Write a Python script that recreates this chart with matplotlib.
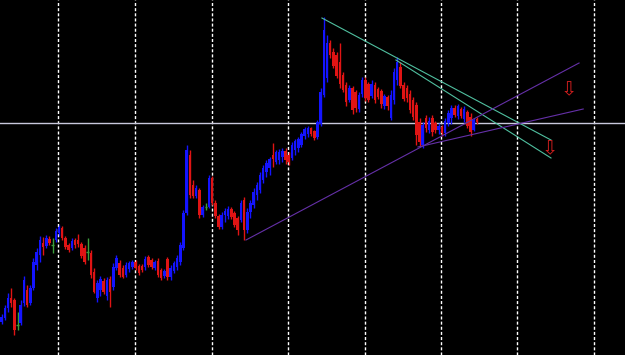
import numpy as np
import matplotlib
matplotlib.use("Agg")
import matplotlib.pyplot as plt

# candle data (price units), one entry per bar
opens = [33, 37, 47, 57, 55, 30, 32, 52, 65, 52, 67, 90, 100, 112, 109, 116, 110, 115, 122, 127,
         117, 110, 107, 115, 115, 111, 107, 103, 102, 83, 57, 65, 74, 59, 76, 68, 87, 92, 87, 80,
         86, 88, 93, 89, 89, 88, 98, 95, 87, 94, 85, 79, 96, 78, 84, 88, 93, 107, 142, 200,
         170, 159, 165, 140, 148, 148, 177, 152, 139, 128, 140, 139, 146, 142, 137, 135, 155, 125, 143, 150,
         160, 165, 175, 183, 187, 200, 193, 195, 198, 204, 200, 197, 205, 207, 210, 219, 221, 227, 224, 218,
         231, 260, 277, 312, 303, 300, 293, 280, 270, 255, 267, 263, 246, 261, 275, 271, 259, 270, 266, 264,
         249, 258, 237, 255, 275, 288, 270, 267, 261, 255, 250, 233, 210, 237, 225, 237, 232, 225, 228, 222,
         232, 237, 247, 239, 246, 236, 243, 238, 225, 236]
closes = [38, 47, 57, 52, 25, 30, 50, 75, 50, 67, 93, 103, 115, 108, 117, 112, 110, 124, 128, 117,
          108, 105, 114, 110, 111, 99, 93, 103, 80, 63, 72, 76, 63, 75, 63, 88, 97, 80, 78, 90,
          92, 93, 87, 82, 85, 96, 90, 88, 93, 80, 77, 84, 78, 87, 92, 97, 110, 142, 205, 160,
          159, 167, 140, 148, 148, 177, 152, 139, 128, 140, 144, 146, 138, 130, 125, 152, 125, 143, 152, 163,
          170, 180, 187, 192, 196, 196, 203, 203, 204, 195, 193, 210, 214, 216, 221, 226, 227, 221, 217, 233,
          263, 325, 312, 300, 289, 279, 271, 265, 253, 267, 245, 247, 260, 275, 257, 255, 271, 255, 258, 251,
          259, 249, 260, 283, 293, 269, 256, 257, 245, 238, 220, 213, 230, 227, 234, 223, 225, 229, 222, 234,
          242, 247, 240, 249, 239, 246, 229, 223, 235, 233]
highs = [41, 50, 62, 67, 57, 43, 55, 79, 70, 70, 97, 107, 119, 118, 120, 119, 117, 127, 130, 129,
         119, 112, 117, 117, 121, 113, 110, 117, 105, 87, 75, 79, 77, 78, 79, 92, 100, 95, 90, 93,
         94, 95, 95, 91, 91, 99, 100, 97, 95, 97, 87, 86, 98, 90, 94, 100, 113, 145, 210, 205,
         175, 170, 167, 150, 152, 180, 179, 155, 141, 143, 147, 149, 148, 144, 139, 155, 158, 147, 155, 167,
         173, 183, 190, 195, 198, 212, 205, 206, 207, 207, 203, 213, 216, 218, 223, 228, 229, 228, 225, 235,
         267, 338, 320, 315, 307, 303, 312, 283, 273, 270, 269, 265, 263, 278, 278, 273, 275, 273, 268, 266,
         261, 260, 265, 287, 298, 293, 273, 270, 265, 258, 253, 237, 233, 240, 238, 240, 234, 232, 230, 237,
         245, 250, 250, 251, 248, 249, 245, 242, 237, 238]
lows = [31, 35, 43, 48, 20, 25, 30, 49, 48, 50, 65, 85, 93, 100, 107, 110, 102, 113, 119, 115,
        106, 103, 105, 107, 108, 97, 91, 95, 77, 62, 53, 59, 61, 55, 48, 65, 85, 78, 77, 78,
        83, 86, 85, 80, 83, 85, 88, 86, 85, 78, 75, 77, 75, 75, 82, 85, 90, 105, 140, 157,
        157, 157, 137, 138, 145, 147, 150, 137, 126, 126, 133, 136, 136, 128, 120, 133, 115, 122, 137, 147,
        155, 162, 172, 178, 180, 188, 191, 191, 193, 191, 190, 195, 200, 203, 208, 216, 218, 219, 215, 216,
        229, 258, 273, 297, 287, 277, 267, 263, 249, 253, 241, 243, 243, 258, 254, 253, 257, 252, 256, 247,
        246, 245, 235, 251, 270, 267, 254, 253, 242, 235, 210, 209, 207, 223, 222, 219, 222, 221, 219, 219,
        229, 231, 238, 236, 237, 233, 227, 219, 224, 231]

grid_x = [17.7, 41.8, 66.0, 89.8, 113.9, 137.7, 161.6, 185.7]
hline_level = 232
# trend lines: (x0, y0, x1, y1)
cyan_lines = [(100.4, 337, 172.2, 215), (123.6, 295, 172.2, 197)]
purple_lines = [(76.6, 115, 181.0, 292), (130.5, 208, 182.3, 246)]
arrows = [(177.9, 265), (171.9, 206)]

fig = plt.figure(figsize=(6.25, 3.55), dpi=100, facecolor="black")
ax = fig.add_axes([0, 0, 1, 1])
ax.set_facecolor("black")
ax.set_xlim(-0.5, 195.4)
ax.set_ylim(0, 355)
ax.axis("off")

for gx in grid_x:
    ax.axvline(gx, color="white", lw=1.0, ls=(0, (2.2, 1.5)), zorder=1)

blue = "#1414ff"
red = "#e01414"
green = "#3ca03c"
x = np.arange(len(opens))
for i in x:
    o, c, h, l = opens[i], closes[i], highs[i], lows[i]
    if c > o:
        col = blue
    elif c < o:
        col = red
    else:
        col = green
    ax.vlines(i, l, h, color=col, lw=1.0, zorder=3)
    if c == o:
        ax.hlines(c, i - 0.4, i + 0.4, color=col, lw=1.0, zorder=3)
    else:
        ax.bar(i, max(abs(c - o), 1.5), bottom=min(o, c), width=0.8, color=col, lw=0, zorder=3)

ax.axhline(hline_level, color="#c8c8dc", lw=1.0, zorder=2)
for x0, y0, x1, y1 in cyan_lines:
    ax.plot([x0, x1], [y0, y1], color="#50c0a0", lw=0.8, zorder=4)
for x0, y0, x1, y1 in purple_lines:
    ax.plot([x0, x1], [y0, y1], color="#6530a8", lw=0.8, zorder=4)
for ax_, ay in arrows:
    ax.text(ax_, ay, "\u21e9", color="#d01e1e", fontsize=14, ha="center", va="center", zorder=5)

fig.savefig("out.png", dpi=100, facecolor="black")
